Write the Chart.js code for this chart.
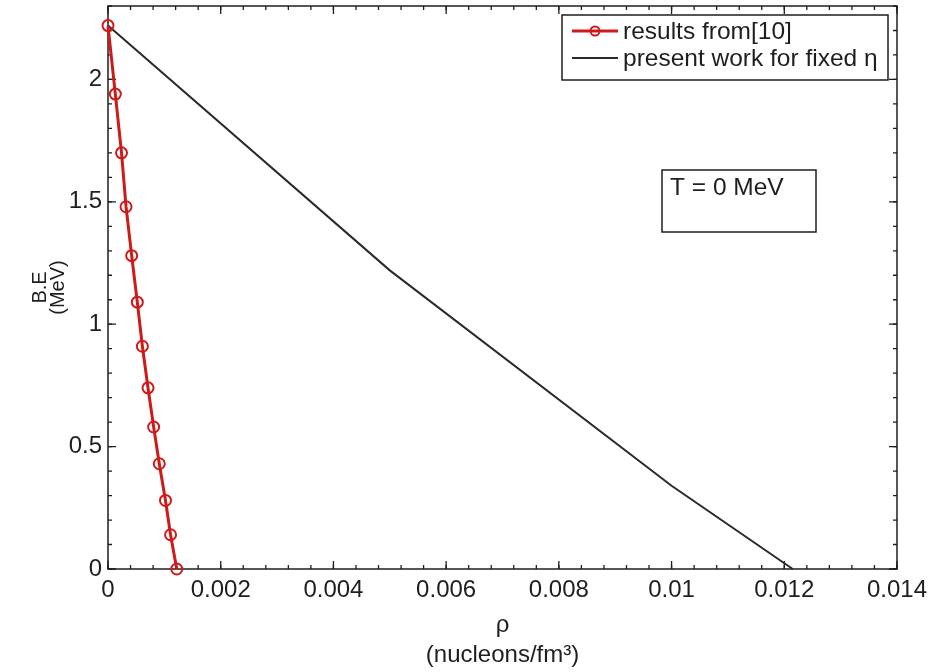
<!DOCTYPE html>
<html>
<head>
<meta charset="utf-8">
<title>B.E vs density</title>
<script src="https://cdn.jsdelivr.net/npm/chart.js@4.4.1/dist/chart.umd.min.js"></script>
<style>
  html, body { margin: 0; padding: 0; background: #fff; }
  #wrap { width: 932px; height: 672px; }
</style>
</head>
<body>
<div id="wrap"><canvas id="chart" width="932" height="672"></canvas></div>
<script>
// ── Dati ─────────────────────────────────
// risultati di riferimento [10]
const rhoRef = [0, 0.00013, 0.00024, 0.00032, 0.00042, 0.00052, 0.00061, 0.00071, 0.00081, 0.00091, 0.00102, 0.00111, 0.00122];
const beRef  = [2.22, 1.94, 1.70, 1.48, 1.28, 1.09, 0.91, 0.74, 0.58, 0.43, 0.28, 0.14, 0];
// presente lavoro, eta fisso
const rhoPresent = [0, 0.005, 0.01, 0.01215];
const bePresent  = [2.22, 1.22, 0.34, 0];

const xTicks = [0, 0.002, 0.004, 0.006, 0.008, 0.01, 0.012, 0.014];
const xTickLabels = ['0', '0.002', '0.004', '0.006', '0.008', '0.01', '0.012', '0.014'];
const yTicks = [0, 0.5, 1, 1.5, 2];
const yTickLabels = ['0', '0.5', '1', '1.5', '2'];

const seriesNames = ['results from[10]', 'present work for fixed \u03b7'];
const noteText = 'T = 0 MeV';

const FONT = '"Liberation Sans", Arial, Helvetica, sans-serif';
const RED = '#cf1a1a';
const INK = '#1e1e1e';

const toXY = (xs, ys) => xs.map((x, i) => ({ x, y: ys[i] }));

// ── Cornice + tacche interne (stile MATLAB) ──
const framePlugin = {
  id: 'frame',
  beforeDatasetsDraw(chart) {
    const { ctx, chartArea: a, scales: { x, y } } = chart;
    ctx.save();
    ctx.strokeStyle = INK;
    ctx.lineWidth = 1.5;
    ctx.strokeRect(a.left, a.top, a.right - a.left, a.bottom - a.top);

    const tick = (px, isX, len) => {
      ctx.beginPath();
      if (isX) {
        ctx.moveTo(px, a.bottom); ctx.lineTo(px, a.bottom - len);
        ctx.moveTo(px, a.top);    ctx.lineTo(px, a.top + len);
      } else {
        ctx.moveTo(a.left, px);  ctx.lineTo(a.left + len, px);
        ctx.moveTo(a.right, px); ctx.lineTo(a.right - len, px);
      }
      ctx.stroke();
    };
    ctx.lineWidth = 1.3;
    for (let v = 0; v <= x.max + 1e-9; v += 0.0004) tick(x.getPixelForValue(v), true, 4);
    for (let v = 0; v <= y.max + 1e-9; v += 0.1) tick(y.getPixelForValue(v), false, 4);
    xTicks.forEach(v => tick(x.getPixelForValue(v), true, 8));
    yTicks.forEach(v => tick(y.getPixelForValue(v), false, 8));
    ctx.restore();
  },
  afterDraw(chart) {
    const { ctx } = chart;
    const ds = chart.data.datasets;
    ctx.save();

    // legenda
    const lx = 562, ly = 15, lw = 326, lh = 65;
    ctx.fillStyle = '#fff';
    ctx.fillRect(lx, ly, lw, lh);
    ctx.strokeStyle = INK;
    ctx.lineWidth = 1.5;
    ctx.strokeRect(lx, ly, lw, lh);
    const rows = [31, 58];
    ds.forEach((d, i) => {
      const ry = rows[i];
      ctx.strokeStyle = d.borderColor;
      ctx.lineWidth = d.borderWidth;
      ctx.beginPath();
      ctx.moveTo(572, ry); ctx.lineTo(618, ry);
      ctx.stroke();
      if (d.pointRadius > 0) {
        ctx.lineWidth = d.pointBorderWidth;
        ctx.strokeStyle = d.pointBorderColor;
        ctx.beginPath();
        ctx.arc(595, ry, d.pointRadius - 1, 0, Math.PI * 2);
        ctx.stroke();
      }
      ctx.fillStyle = INK;
      ctx.font = '24.5px ' + FONT;
      ctx.textBaseline = 'middle';
      ctx.textAlign = 'left';
      ctx.fillText(d.label, 623, ry + 1);
    });

    // riquadro temperatura
    ctx.strokeStyle = INK;
    ctx.lineWidth = 1.5;
    ctx.strokeRect(662, 170, 154, 62);
    ctx.fillStyle = INK;
    ctx.font = '24.5px ' + FONT;
    ctx.textBaseline = 'middle';
    ctx.textAlign = 'left';
    ctx.fillText(noteText, 670, 188);
    ctx.restore();
  }
};

new Chart(document.getElementById('chart'), {
  type: 'scatter',
  data: {
    datasets: [
      {
        label: seriesNames[0],
        data: toXY(rhoRef, beRef),
        showLine: true,
        borderColor: RED,
        borderWidth: 3,
        pointRadius: 5.5,
        pointBorderWidth: 2,
        pointBorderColor: RED,
        pointBackgroundColor: 'rgba(0,0,0,0)',
        clip: false
      },
      {
        label: seriesNames[1],
        data: toXY(rhoPresent, bePresent),
        showLine: true,
        borderColor: '#2a2a2a',
        borderWidth: 2,
        pointRadius: 0,
        clip: false
      }
    ]
  },
  options: {
    responsive: false,
    animation: false,
    layout: { autoPadding: false, padding: { top: 6, right: 35, left: 0, bottom: 0 } },
    plugins: {
      legend: { display: false },
      tooltip: { enabled: false }
    },
    scales: {
      x: {
        type: 'linear',
        min: 0,
        max: 0.014,
        grid: { display: false, drawTicks: false },
        border: { display: false },
        afterBuildTicks: s => { s.ticks = xTicks.map(v => ({ value: v })); },
        afterFit: s => { s.height = 103; s.paddingLeft = 0; s.paddingRight = 0; },
        ticks: {
          padding: 7,
          color: INK,
          font: { family: FONT, size: 24 },
          maxRotation: 0,
          autoSkip: false,
          callback: (v, i) => xTickLabels[i]
        },
        title: {
          display: true,
          text: ['\u03c1', '(nucleons/fm\u00b3)'],
          color: INK,
          font: { family: FONT, size: 24, lineHeight: '30px' },
          padding: { top: 0, bottom: 2 }
        }
      },
      y: {
        type: 'linear',
        min: 0,
        max: 2.3,
        grid: { display: false, drawTicks: false },
        border: { display: false },
        afterBuildTicks: s => { s.ticks = yTicks.map(v => ({ value: v })); },
        afterFit: s => { s.width = 108; s.paddingTop = 0; s.paddingBottom = 0; },
        ticks: {
          padding: 6,
          color: INK,
          font: { family: FONT, size: 24 },
          autoSkip: false,
          callback: (v, i) => yTickLabels[i]
        },
        title: {
          display: true,
          text: ['B.E', '(MeV)'],
          color: INK,
          font: { family: FONT, size: 20, lineHeight: '18px' },
          padding: { top: 31, bottom: 0 }
        }
      }
    }
  },
  plugins: [framePlugin]
});
</script>
</body>
</html>
